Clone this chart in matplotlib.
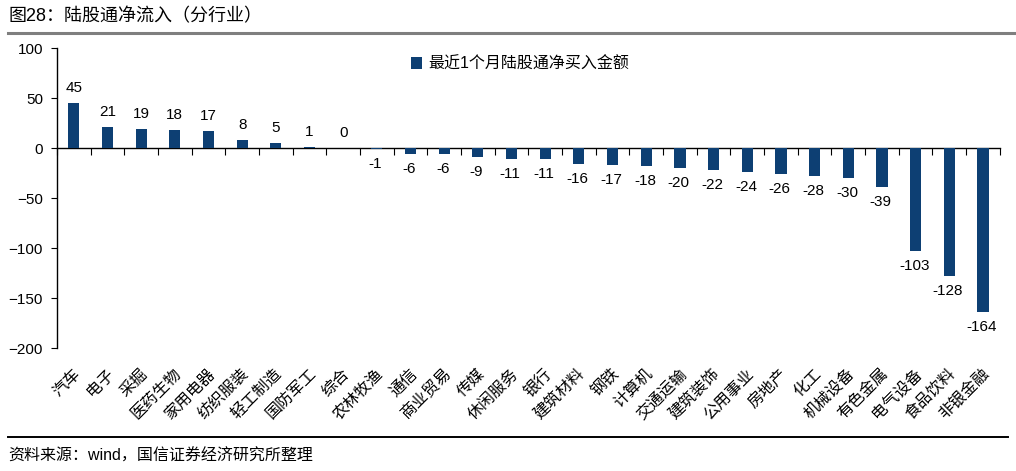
import matplotlib
matplotlib.use("Agg")
from matplotlib import pyplot as plt
from matplotlib.lines import Line2D
import matplotlib.transforms as mtransforms
import numpy as np

plt.rcParams['font.family'] = ['Liberation Sans', 'Noto Sans CJK SC', 'DejaVu Sans']

industries = ["汽车", "电子", "采掘", "医药生物", "家用电器", "纺织服装", "轻工制造", "国防军工",
              "综合", "农林牧渔", "通信", "商业贸易", "传媒", "休闲服务", "银行", "建筑材料",
              "钢铁", "计算机", "交通运输", "建筑装饰", "公用事业", "房地产", "化工", "机械设备",
              "有色金属", "电气设备", "食品饮料", "非银金融"]
net_buy = [45, 21, 19, 18, 17, 8, 5, 1, 0, -1, -6, -6, -9, -11, -11, -16,
           -17, -18, -20, -22, -24, -26, -28, -30, -39, -103, -128, -164]
series_name = "最近1个月陆股通净买入金额"
yticks = [-200, -150, -100, -50, 0, 50, 100]

bar_color = "#0D3F73"

fig = plt.figure(figsize=(10.16, 4.71), dpi=100)
ax = fig.add_axes([0.0561, 0.261, 0.928, 0.637])

x = np.arange(len(industries))
bars = ax.bar(x, net_buy, width=0.33, color=bar_color, label=series_name, zorder=3)

for xi, v in zip(x, net_buy):
    if v >= 0:
        ax.annotate(str(v), (xi, v), xytext=(0, 6), textcoords="offset points",
                    ha="center", va="bottom", fontsize=11)
    else:
        ax.annotate(str(v), (xi, v), xytext=(-1, -6), textcoords="offset points",
                    ha="center", va="top", fontsize=11)

ax.set_xlim(-0.5, len(industries) - 0.5)
ax.set_ylim(-200, 100)
ax.set_yticks(yticks)
ax.tick_params(axis="y", direction="out", length=4, labelsize=11, pad=6)

for s in ["top", "right"]:
    ax.spines[s].set_visible(False)
ax.spines["left"].set_linewidth(1.0)
ax.spines["bottom"].set_position(("data", 0))
ax.spines["bottom"].set_linewidth(1.0)

# tick marks between categories on the zero line
ax.set_xticks(np.arange(-0.5, len(industries) + 0.5, 1))
ax.tick_params(axis="x", direction="out", length=5, labelbottom=False)

# category labels at the bottom of the plot
sec = ax.secondary_xaxis(0)
sec.set_xticks(x, industries, rotation=45, ha="right", va="center",
               rotation_mode="anchor", fontsize=11.5)
sec.tick_params(length=0, pad=16)
sec.spines["bottom"].set_visible(False)
shift = mtransforms.ScaledTranslation(4 / 100, -1 / 100, fig.dpi_scale_trans)
for lbl in sec.get_xticklabels():
    lbl.set_transform(lbl.get_transform() + shift)

ax.legend(loc="center left", bbox_to_anchor=(0.36, 0.947), frameon=False,
          handlelength=0.7, handleheight=0.7, handletextpad=0.4, fontsize=11.5)

# title and source
fig.text(0.008, 1 - 17 / 471, "图28：陆股通净流入（分行业）", fontsize=13,
         va="center", ha="left")
fig.add_artist(Line2D([0.008, 1.0], [1 - 33 / 471, 1 - 33 / 471], color="#7f7f7f", lw=2.2))
fig.add_artist(Line2D([0.008, 0.992], [1 - 437 / 471, 1 - 437 / 471], color="black", lw=1.4))
fig.text(0.008, 1 - 456 / 471, "资料来源：wind，国信证券经济研究所整理", fontsize=11.5,
         va="center", ha="left")

fig.savefig("out.png", dpi=100)
